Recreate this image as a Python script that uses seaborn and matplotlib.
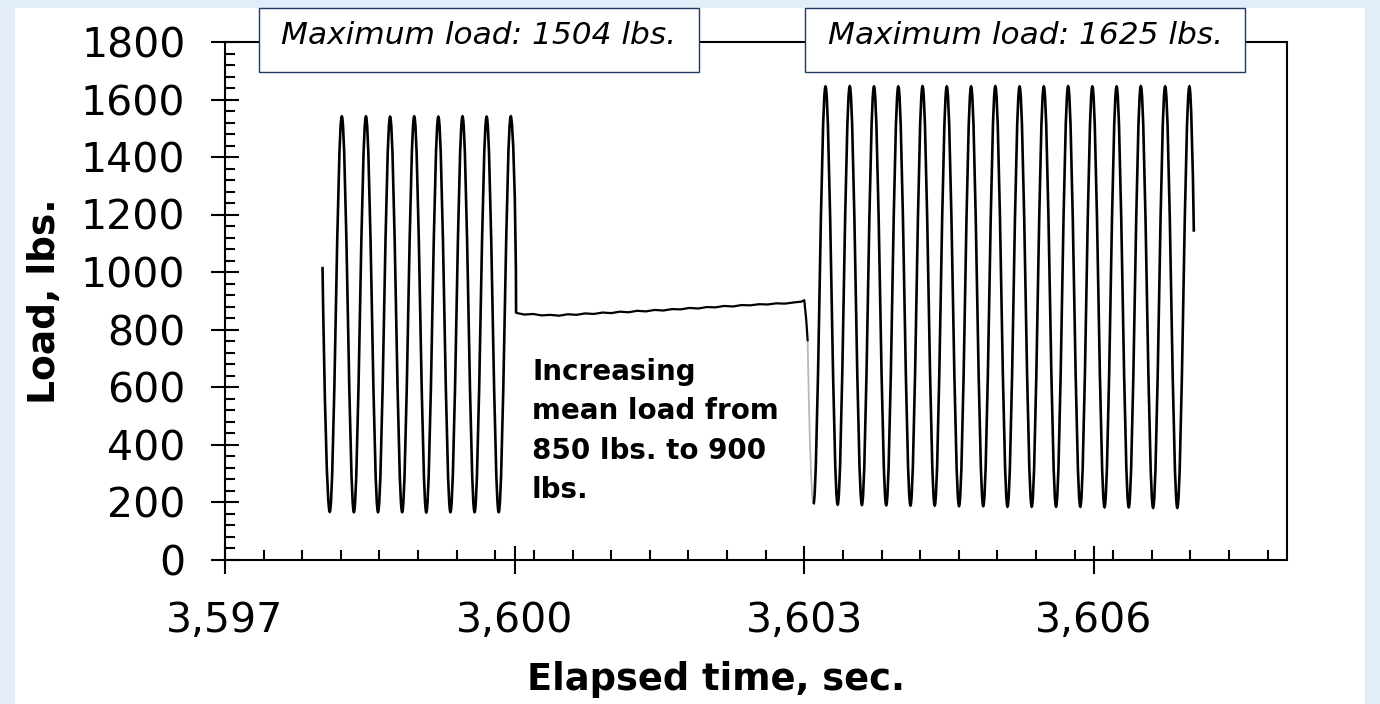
import numpy as np
import pandas as pd
import matplotlib
matplotlib.use("Agg")
import matplotlib.pyplot as plt
import seaborn as sns
from matplotlib.path import Path
from matplotlib.patches import PathPatch, Rectangle
from matplotlib.ticker import MultipleLocator, FixedLocator, FuncFormatter

# ---- load record (seconds, lbs.) ----
# first block of load cycles
block1_start = (3598.01, 1018)
block1_trough_t = [3598.085, 3598.335, 3598.585, 3598.835, 3599.085, 3599.335, 3599.585, 3599.835]
block1_trough_load = [166, 165, 165, 165, 164, 165, 165, 165]
block1_peak_t = [3598.21, 3598.46, 3598.71, 3598.96, 3599.21, 3599.46, 3599.71, 3599.96]
block1_peak_load = [1541, 1541, 1540, 1541, 1540, 1541, 1540, 1541]

# hold at mean load between the two blocks
hold_t = [3600.015, 3600.10, 3600.19, 3600.28, 3600.37, 3600.46, 3600.55, 3600.64,
          3600.73, 3600.82, 3600.91, 3601.00, 3601.09, 3601.18, 3601.27, 3601.36,
          3601.45, 3601.54, 3601.63, 3601.72, 3601.81, 3601.90, 3601.99, 3602.08,
          3602.17, 3602.26, 3602.35, 3602.44, 3602.53, 3602.62, 3602.71, 3602.80,
          3602.89, 3602.97, 3603.00, 3603.02, 3603.035]
hold_load = [858, 852, 854, 849, 851, 848, 853, 851,
             856, 854, 859, 857, 862, 860, 865, 863,
             868, 866, 871, 870, 875, 873, 878, 877,
             882, 880, 885, 884, 888, 887, 891, 890,
             894, 897, 902, 835, 762]

# second block of load cycles
block2_trough_t = [3603.095, 3603.346, 3603.597, 3603.849, 3604.100, 3604.351, 3604.603, 3604.854,
                   3605.105, 3605.356, 3605.608, 3605.859, 3606.110, 3606.361, 3606.613, 3606.864]
block2_trough_load = [193, 191, 190, 189, 188, 188, 186, 186, 184, 184, 184, 184, 182, 182, 180, 180]
block2_peak_t = [3603.220, 3603.471, 3603.722, 3603.974, 3604.225, 3604.476, 3604.728, 3604.979,
                 3605.230, 3605.481, 3605.733, 3605.984, 3606.235, 3606.486, 3606.738, 3606.989]
block2_peak_load = [1645, 1646, 1645, 1645, 1646, 1645, 1645, 1646,
                    1645, 1645, 1646, 1645, 1645, 1646, 1645, 1645]
block2_end = (3607.035, 1140)

x_major = [3597, 3600, 3603, 3606]
x_minor_step = 0.4

# ---- style ----
sns.set_theme(style="white")
plt.rcParams["font.family"] = ["DejaVu Sans"]

W, H = 1380, 704
fig = plt.figure(figsize=(W / 100, H / 100), dpi=100)
fig.patch.set_facecolor("#E3EDF9")
fig.add_artist(Rectangle((15 / W, 0), 1350 / W, 696 / H, transform=fig.transFigure,
                         facecolor="white", edgecolor="none", zorder=0))

left, right, top, bottom = 225, 1287, 42, 559.5
ax = fig.add_axes([left / W, 1 - bottom / H, (right - left) / W, (bottom - top) / H])
ax.set_facecolor("white")

# smooth cycle rendering: cubic segments with flat tangents at the turning points
K = 1 - 2 / np.pi


def segment(verts, codes, p0, p1, a="flat", b="flat"):
    dt = p1[0] - p0[0]
    dy = p1[1] - p0[1]
    if a == "flat":
        c1 = (p0[0] + K * dt, p0[1])
    else:
        c1 = (p0[0] + 0.25 * dt, p0[1] + 0.5 * dy)
    if b == "flat":
        c2 = (p1[0] - K * dt, p1[1])
    elif b == "steep":
        c2 = (p1[0] - 0.25 * dt, p1[1] - 0.5 * dy)
    else:  # nearly vertical arrival
        c2 = (p1[0] - 0.05 * dt, p1[1] - 0.6 * dy)
    verts += [c1, c2, p1]
    codes += [Path.CURVE4] * 3


def cycles(troughs, peaks):
    pts = []
    for tr, pk in zip(troughs, peaks):
        pts += [tr, pk]
    return pts


line_kw = dict(facecolor="none", edgecolor="black", linewidth=1.9, capstyle="butt", zorder=3)

# first block
b1 = cycles(list(zip(block1_trough_t, block1_trough_load)),
            list(zip(block1_peak_t, block1_peak_load)))
verts, codes = [block1_start], [Path.MOVETO]
segment(verts, codes, block1_start, b1[0], a="steep")
for p0, p1 in zip(b1[:-1], b1[1:]):
    segment(verts, codes, p0, p1)
segment(verts, codes, b1[-1], (hold_t[0], hold_load[0]), b="vertical")
ax.add_patch(PathPatch(Path(verts, codes), **line_kw))

# hold period
hold = pd.DataFrame({"t": hold_t, "load": hold_load})
sns.lineplot(data=hold, x="t", y="load", ax=ax, color="black", linewidth=1.6,
             sort=False, estimator=None, zorder=3)

# transition into the second block
b2 = cycles(list(zip(block2_trough_t, block2_trough_load)),
            list(zip(block2_peak_t, block2_peak_load)))
v, c = [(hold_t[-1], hold_load[-1])], [Path.MOVETO]
segment(v, c, (hold_t[-1], hold_load[-1]), b2[0], a="steep")
ax.add_patch(PathPatch(Path(v, c), facecolor="none", edgecolor="#B8B8B8",
                       linewidth=1.3, zorder=2))

# second block
verts, codes = [b2[0]], [Path.MOVETO]
for p0, p1 in zip(b2[:-1], b2[1:]):
    segment(verts, codes, p0, p1)
segment(verts, codes, b2[-1], block2_end, b="steep")
ax.add_patch(PathPatch(Path(verts, codes), **line_kw))

# ---- axes ----
ax.set_xlim(3597, 3608)
ax.set_ylim(0, 1800)
ax.xaxis.set_major_locator(FixedLocator(x_major))
ax.xaxis.set_minor_locator(FixedLocator(np.arange(3597, 3608.01, x_minor_step)))
ax.yaxis.set_major_locator(MultipleLocator(200))
ax.yaxis.set_minor_locator(MultipleLocator(40))
ax.xaxis.set_major_formatter(FuncFormatter(lambda v, p: f"{v:,.0f}"))
ax.yaxis.set_major_formatter(FuncFormatter(lambda v, p: f"{v:.0f}"))

for s in ax.spines.values():
    s.set_color("black")
    s.set_linewidth(1.5)
    s.set_visible(True)

ax.tick_params(which="both", bottom=True, left=True, top=False, right=False, color="black")
ax.tick_params(which="major", direction="inout", length=20, width=1.5,
               labelsize=29.5, labelcolor="black")
ax.tick_params(axis="y", which="major", pad=18.5)
ax.tick_params(axis="x", which="major", pad=20)
ax.tick_params(which="minor", direction="in", length=7.5, width=1.5)
ax.set_xlabel("")
ax.set_ylabel("")

fig.text(45 / W, 1 - 301 / H, "Load, lbs.", rotation=90, ha="center", va="center",
         fontsize=27, fontweight="bold", color="black")
fig.text(716 / W, 1 - 680 / H, "Elapsed time, sec.", ha="center", va="center",
         fontsize=26.5, fontweight="bold", color="black")

# maximum-load boxes
for (x0, x1), label in [((259, 699), "Maximum load: 1504 lbs."),
                        ((805, 1245), "Maximum load: 1625 lbs.")]:
    fig.add_artist(Rectangle((x0 / W, 1 - 72 / H), (x1 - x0) / W, 64 / H,
                             transform=fig.transFigure, facecolor="white",
                             edgecolor="#1F3864", linewidth=1.0, zorder=5))
    fig.text((x0 + x1) / 2 / W, 1 - 44 / H, label, ha="center", va="baseline",
             fontsize=22.5, style="italic", color="black", zorder=6)

ax.text(3600.18, 702, "Increasing\nmean load from\n850 lbs. to 900\nlbs.",
        ha="left", va="top", fontsize=20, fontweight="bold", color="black",
        linespacing=1.52, zorder=4)

fig.savefig("out.png", dpi=100, facecolor=fig.get_facecolor())
